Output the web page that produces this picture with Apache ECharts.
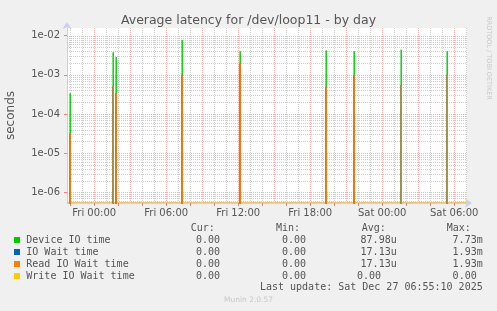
<!DOCTYPE html>
<html><head><meta charset="utf-8">
<script src="https://cdn.jsdelivr.net/npm/echarts@6/dist/echarts.min.js"></script>
<style>html,body{margin:0;padding:0;background:#f0f0f0;}#c{width:497px;height:311px;}</style>
</head><body><div id="c"></div>
<script>
// ---- data ----
const seriesNames = ['Device IO time', 'IO Wait time', 'Read IO Wait time', 'Write IO Wait time'];
const seriesColors = ['#00cc00', '#0066b3', '#ff8000', '#ffcc00'];
// 5-minute samples with non-zero latency (UTC); all other samples are 0
const spikeTimes = ['2025-12-25T22:00', '2025-12-26T01:35', '2025-12-26T01:50', '2025-12-26T07:20',
  '2025-12-26T12:10', '2025-12-26T19:20', '2025-12-26T21:40', '2025-12-27T01:35', '2025-12-27T05:25'];
const deviceIO = [3.4e-4, 3.74e-3, 2.84e-3, 7.73e-3, 4.0e-3, 4.2e-3, 4.0e-3, 4.4e-3, 4.0e-3];
const ioWait = [3.16e-5, 5.1e-4, 3.4e-4, 1.0e-3, 1.93e-3, 5.0e-4, 1.0e-3, 5.4e-4, 1.0e-3];
const readWait = [3.16e-5, 5.1e-4, 3.4e-4, 1.0e-3, 1.93e-3, 5.0e-4, 1.0e-3, 5.4e-4, 1.0e-3];
const writeWait = [0, 0, 0, 0, 0, 0, 0, 0, 0];
const xStart = '2025-12-25T21:44';
const xEnd = '2025-12-27T07:04';
const yTickLabels = ['1e-06', '1e-05', '1e-04', '1e-03', '1e-02'];
const statHeaders = ['Cur:', 'Min:', 'Avg:', 'Max:'];
const statCur = ['0.00', '0.00', '0.00', '0.00'];
const statMin = ['0.00', '0.00', '0.00', '0.00'];
const statAvg = ['87.98u', '17.13u', '17.13u', '0.00'];
const statMax = ['7.73m', '1.93m', '1.93m', '0.00'];
const lastUpdate = 'Last update: Sat Dec 27 06:55:10 2025';
const footer = 'Munin 2.0.57';
const title = 'Average latency for /dev/loop11 - by day';
const yName = 'seconds';
const sideText = 'RRDTOOL / TOBI OETIKER';

// ---- helpers ----
const T = s => Date.parse(s + ':00Z');
const STEP = 5 * 60 * 1000;
const HOUR = 3600 * 1000;
const ZERO = 1e-30; // zero samples: far below the log axis floor (like rrdtool's -inf)
const tMin = T(xStart), tMax = T(xEnd);
const yMin = 5.33e-7, yMax = 1.574e-2;

function build(vals) {
  const d = [[tMin, ZERO]];
  spikeTimes.forEach((s, i) => {
    const t = T(s);
    d.push([t - STEP, ZERO]);
    d.push([t, vals[i] > 0 ? vals[i] : ZERO]);
    d.push([t + STEP, ZERO]);
  });
  d.push([tMax, ZERO]);
  return d;
}
const seriesVals = [deviceIO, ioWait, readWait, writeWait];

// grid lines: [time, value, kind]  kind 0 gray vertical, 1 red vertical, 2 gray horizontal, 3 red horizontal, 4 base line
const gridColors = ['#cdcdcd', '#efb2b2', '#cdcdcd', '#efb2b2', '#e8c67e'];
const gridData = [];
const firstHour = Math.ceil(tMin / HOUR) * HOUR;
for (let t = firstHour; t <= tMax; t += HOUR) if ((t / HOUR) % 3 !== 0) gridData.push([t, 1e-4, 0]);
for (let e = -7; e <= -2; e++) for (let m = 2; m <= 9; m++) {
  const v = m * Math.pow(10, e);
  if (v > yMin && v < yMax) gridData.push([tMin + HOUR, v, 2]);
}
for (let t = firstHour; t <= tMax; t += HOUR) if ((t / HOUR) % 3 === 0) gridData.push([t, 1e-4, 1]);
yTickLabels.forEach(l => gridData.push([tMin + HOUR, Number(l), 3]));
gridData.push([tMin + HOUR, yMin, 4]);

const days = ['Sun', 'Mon', 'Tue', 'Wed', 'Thu', 'Fri', 'Sat'];
function xFmt(v) {
  const d = new Date(v);
  if (d.getUTCHours() % 6 !== 0 || d.getUTCMinutes() !== 0) return '';
  return days[d.getUTCDay()] + ' ' + String(d.getUTCHours()).padStart(2, '0') + ':00';
}
function yFmt(v) {
  const l = Math.log10(v);
  const e = Math.round(l);
  if (Math.abs(l - e) > 1e-6) return '';
  const lab = '1e' + (e < 0 ? '-' : '+') + String(Math.abs(e)).padStart(2, '0');
  return yTickLabels.indexOf(lab) >= 0 ? lab : '';
}

const FONT = 'DejaVu Sans';
const MONO = 'DejaVu Sans Mono';
const TXT = '#555';

// legend + stats as graphic
const graphic = [];
graphic.push({ type: 'text', x: 488.5, y: 58, rotation: -Math.PI / 2,
  style: { text: sideText, fill: '#c8c8c8', font: '6.5px ' + FONT, align: 'center', verticalAlign: 'middle' } });
const headX = [190.7, 276, 361.7, 446.7];
statHeaders.forEach((h, i) => graphic.push({ type: 'text', x: headX[i], y: 228,
  style: { text: h, fill: TXT, font: '10px ' + MONO, verticalAlign: 'middle' } }));
const rowY = [240, 252, 264, 276];
seriesNames.forEach((n, i) => {
  graphic.push({ type: 'rect', shape: { x: 14, y: rowY[i] - 3, width: 6, height: 6 }, style: { fill: seriesColors[i] } });
  graphic.push({ type: 'text', x: 26.3, y: rowY[i], style: { text: n, fill: TXT, font: '10px ' + MONO, verticalAlign: 'middle' } });
  graphic.push({ type: 'text', x: 220, y: rowY[i], style: { text: statCur[i], fill: TXT, font: '10px ' + MONO, align: 'right', verticalAlign: 'middle' } });
  graphic.push({ type: 'text', x: 306, y: rowY[i], style: { text: statMin[i], fill: TXT, font: '10px ' + MONO, align: 'right', verticalAlign: 'middle' } });
  const avgRight = /[a-z]$/i.test(statAvg[i]) ? 396.7 : 381;
  const maxRight = /[a-z]$/i.test(statMax[i]) ? 482.7 : 476.7;
  graphic.push({ type: 'text', x: avgRight, y: rowY[i], style: { text: statAvg[i], fill: TXT, font: '10px ' + MONO, align: 'right', verticalAlign: 'middle' } });
  graphic.push({ type: 'text', x: maxRight, y: rowY[i], style: { text: statMax[i], fill: TXT, font: '10px ' + MONO, align: 'right', verticalAlign: 'middle' } });
});
graphic.push({ type: 'text', x: 482.7, y: 287.5, style: { text: lastUpdate, fill: TXT, font: '10px ' + MONO, align: 'right', verticalAlign: 'middle' } });
graphic.push({ type: 'text', x: 248.5, y: 300, style: { text: footer, fill: '#c8c8c8', font: '7.5px ' + FONT, align: 'center', verticalAlign: 'middle' } });

const AXIS = '#c8d0f4';
const series = [{
  type: 'custom', z: 1, silent: true, animation: false, clip: false,
  data: gridData,
  renderItem: function (params, api) {
    const cs = params.coordSys;
    const kind = api.value(2);
    const p = api.coord([api.value(0), api.value(1)]);
    let shape;
    if (kind < 2) {
      const x = Math.round(p[0]) + 0.5;
      shape = { x1: x, y1: cs.y, x2: x, y2: cs.y + cs.height };
    } else if (kind < 4) {
      const y = Math.round(p[1]) + 0.5;
      shape = { x1: cs.x, y1: y, x2: cs.x + cs.width, y2: y };
    } else {
      const y = Math.round(p[1]) - 0.5;
      shape = { x1: cs.x, y1: y, x2: cs.x + cs.width, y2: y };
    }
    return { type: 'line', shape: shape,
      style: { stroke: gridColors[kind], lineWidth: 1, lineDash: kind === 4 ? null : [1, 1] } };
  }
}];
seriesNames.forEach((n, i) => series.push({
  name: n, type: 'line', data: build(seriesVals[i]), showSymbol: false, symbol: 'none',
  lineStyle: { color: seriesColors[i], width: 1 }, itemStyle: { color: seriesColors[i] },
  z: 2 + i, clip: true, animation: false, silent: true
}));

const chart = echarts.init(document.getElementById('c'), null, { renderer: 'canvas' });
chart.setOption({
  useUTC: true,
  animation: false,
  backgroundColor: '#f0f0f0',
  title: { text: title, left: 'center', top: 9, textStyle: { fontFamily: FONT, fontSize: 12.5, fontWeight: 'normal', color: TXT } },
  grid: { left: 67, right: 30, top: 28, bottom: 108, show: true, backgroundColor: '#ffffff', borderWidth: 0, outerBoundsMode: 'none' },
  xAxis: {
    type: 'time', min: tMin, max: tMax, minInterval: 3 * HOUR, maxInterval: 3 * HOUR,
    axisLine: { lineStyle: { color: AXIS, width: 1 }, symbol: ['none', 'arrow'], symbolSize: [7, 7], symbolOffset: [0, 5] },
    axisTick: { show: true, length: 3, lineStyle: { color: '#f08080' } },
    axisLabel: { formatter: xFmt, color: TXT, fontFamily: FONT, fontSize: 10, margin: 5, showMinLabel: false, showMaxLabel: false, hideOverlap: false },
    splitLine: { show: false }
  },
  yAxis: {
    type: 'log', logBase: 10, min: yMin, max: yMax,
    name: yName, nameLocation: 'middle', nameGap: 50, nameRotate: 90,
    nameTextStyle: { fontFamily: FONT, fontSize: 12, color: TXT },
    axisLine: { show: true, lineStyle: { color: AXIS, width: 1 }, symbol: ['none', 'arrow'], symbolSize: [7, 7], symbolOffset: [0, 6] },
    axisTick: { show: true, length: 3, lineStyle: { color: '#f08080' } },
    axisLabel: { formatter: yFmt, color: TXT, fontFamily: FONT, fontSize: 10, margin: 7, showMinLabel: false, showMaxLabel: false },
    splitLine: { show: false }, minorTick: { show: false }, minorSplitLine: { show: false }
  },
  series: series,
  graphic: graphic
});
</script></body></html>
